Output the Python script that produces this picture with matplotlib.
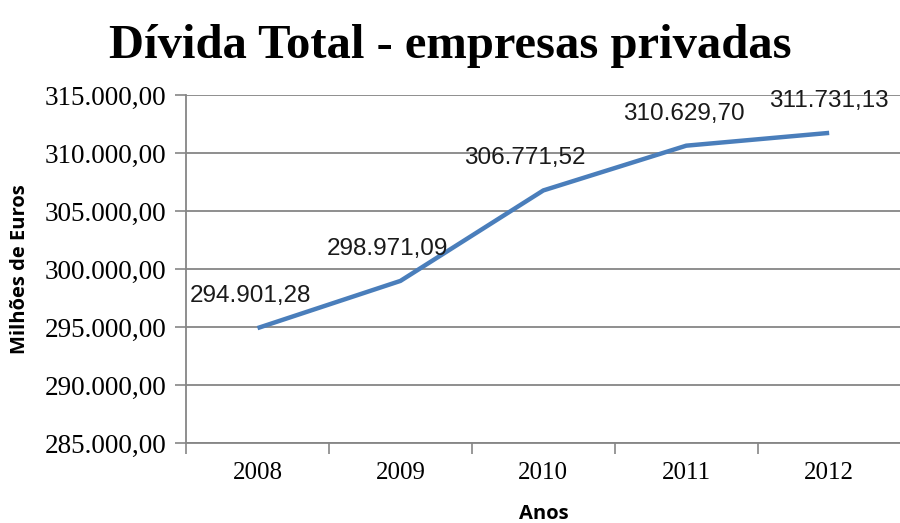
import matplotlib
matplotlib.use('Agg')
import matplotlib.pyplot as plt
import numpy as np

# Dados
anos = ['2008', '2009', '2010', '2011', '2012']
divida = [294901.28, 298971.09, 306771.52, 310629.70, 311731.13]
rotulos = ['294.901,28', '298.971,09', '306.771,52', '310.629,70', '311.731,13']
yticks = [285000, 290000, 295000, 300000, 305000, 310000, 315000]

def fmt_pt(v):
    s = f"{v:,.2f}"
    return s.replace(',', 'X').replace('.', ',').replace('X', '.')

fig = plt.figure(figsize=(9, 5.23), dpi=100)
ax = fig.add_axes([0.2067, 0.153, 0.794, 0.6654])

x = np.arange(len(anos))
ax.plot(x, divida, color='#4A7EBB', linewidth=3.2, solid_capstyle='butt', zorder=3)

# rotulos de dados (deslocamento em pontos)
dx = [-5, -9, -13, -2, 0]
for i in range(len(anos)):
    ax.annotate(rotulos[i], (x[i], divida[i]), xytext=(dx[i], 23),
                textcoords='offset points', ha='center', va='center',
                fontsize=17.5, family='Liberation Sans', color='#1a1a1a')

ax.set_xlim(-0.5, 4.5)
ax.set_ylim(285000, 315000)
ax.set_yticks(yticks)
ax.set_yticklabels([fmt_pt(v) for v in yticks], family='Liberation Serif', fontsize=19.5)
ax.set_xticks(x)
ax.set_xticklabels(anos, family='Liberation Serif', fontsize=18)
ax.set_xticks(np.arange(-0.5, 5, 1), minor=True)
ax.tick_params(axis='x', which='major', length=0, pad=14)
ax.tick_params(axis='x', which='minor', length=8, color='#868686', width=1.2)
ax.tick_params(axis='y', length=8, color='#868686', width=1.2, pad=6)

ax.grid(axis='y', color='#868686', linewidth=1.3)
ax.set_axisbelow(True)
for s in ['top', 'right']:
    ax.spines[s].set_visible(False)
for s in ['left', 'bottom']:
    ax.spines[s].set_color('#868686')
    ax.spines[s].set_linewidth(1.3)

ax.set_ylabel('Milhões de Euros', family='Open Sans', fontweight='bold', fontsize=14.5, labelpad=11)
ax.set_xlabel('Anos', family='Open Sans', fontweight='bold', fontsize=14.5, labelpad=14)

fig.suptitle('Dívida Total - empresas privadas', family='Liberation Serif',
             fontweight='bold', fontsize=35, x=0.5, y=0.955)

fig.savefig('out.png', dpi=100)
